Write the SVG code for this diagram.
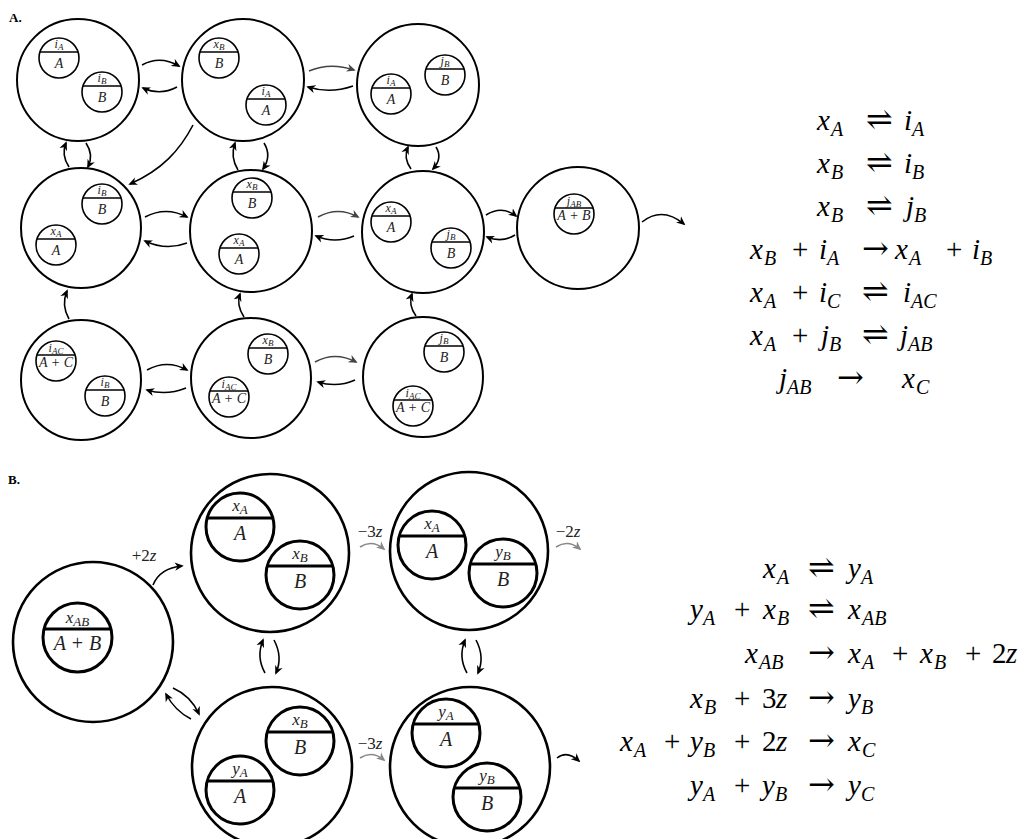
<svg xmlns="http://www.w3.org/2000/svg" width="1031" height="839" viewBox="0 0 1031 839">
<style>
.o{fill:none;stroke:#000;stroke-width:2}
.s{fill:none;stroke:#000;stroke-width:1.6}
.ob{fill:none;stroke:#000;stroke-width:2.6}
.sb2{fill:none;stroke:#000;stroke-width:3}
.t{font-family:"Liberation Serif","DejaVu Serif",serif;font-style:italic;font-size:12px;fill:#222;text-anchor:middle}
.b{font-family:"Liberation Serif","DejaVu Serif",serif;font-style:italic;font-size:14px;fill:#222;text-anchor:middle;white-space:pre}
.tB{font-family:"Liberation Serif","DejaVu Serif",serif;font-style:italic;font-size:17px;fill:#222;text-anchor:middle}
.bB{font-family:"Liberation Serif","DejaVu Serif",serif;font-style:italic;font-size:20px;fill:#222;text-anchor:middle;white-space:pre}
.eq{font-family:"Liberation Serif","DejaVu Serif",serif;font-size:29px;fill:#000}
.m{font-style:italic}
.s2{font-style:italic;font-size:20px}
.ar{font-family:"DejaVu Serif","DejaVu Sans",serif;font-size:32px}
.v{font-style:italic}
.lab{font-family:"Liberation Serif","DejaVu Serif",serif;font-size:17px;fill:#222;text-anchor:middle;white-space:pre}
.h{font-family:"Liberation Serif","DejaVu Serif",serif;font-weight:bold;font-size:13px;fill:#000}
.c{fill:none;stroke:#000;stroke-width:1.6;marker-end:url(#ah)}
.cd{fill:none;stroke:#444;stroke-width:1.6;marker-end:url(#ahd)}
.cg{fill:none;stroke:#888;stroke-width:1.6;marker-end:url(#ahg)}
</style>
<defs>
<marker id="ah" viewBox="0 0 10 10" refX="8" refY="5" markerWidth="9" markerHeight="9" markerUnits="userSpaceOnUse" orient="auto"><path d="M0,0.5 L10,5 L0,9.5 L3,5 z" fill="#000"/></marker>
<marker id="ahd" viewBox="0 0 10 10" refX="8" refY="5" markerWidth="9" markerHeight="9" markerUnits="userSpaceOnUse" orient="auto"><path d="M0,0.5 L10,5 L0,9.5 L3,5 z" fill="#444"/></marker>
<marker id="ahg" viewBox="0 0 10 10" refX="8" refY="5" markerWidth="9" markerHeight="9" markerUnits="userSpaceOnUse" orient="auto"><path d="M0,0.5 L10,5 L0,9.5 L3,5 z" fill="#888"/></marker>
</defs>
<rect width="1031" height="839" fill="#fff"/>

<text class="h" x="9" y="22">A.</text>
<text class="h" x="8" y="484">B.</text>

<!-- Panel A nodes -->
<g id="A1">
<circle class="o" cx="78" cy="80" r="61"/>
<g id="A1a"><circle class="s" cx="59" cy="58" r="20"/><line class="s" x1="39.9" y1="52" x2="78.1" y2="52"/><text class="t" x="59" y="48">i<tspan dy="2" font-size="9">A</tspan></text><text class="b" x="59" y="68">A</text></g>
<g id="A1b"><circle class="s" cx="102" cy="92" r="20"/><line class="s" x1="82.9" y1="86" x2="121.1" y2="86"/><text class="t" x="102" y="82">i<tspan dy="2" font-size="9">B</tspan></text><text class="b" x="102" y="102">B</text></g>
</g>
<g id="A2">
<circle class="o" cx="243" cy="80" r="61"/>
<g id="A2a"><circle class="s" cx="219" cy="58" r="20"/><line class="s" x1="199.9" y1="52" x2="238.1" y2="52"/><text class="t" x="219" y="48">x<tspan dy="2" font-size="9">B</tspan></text><text class="b" x="219" y="68">B</text></g>
<g id="A2b"><circle class="s" cx="266" cy="105" r="20"/><line class="s" x1="246.9" y1="99" x2="285.1" y2="99"/><text class="t" x="266" y="95">i<tspan dy="2" font-size="9">A</tspan></text><text class="b" x="266" y="115">A</text></g>
</g>
<g id="A3">
<circle class="o" cx="418" cy="85" r="61"/>
<g id="A3a"><circle class="s" cx="391" cy="94" r="20"/><line class="s" x1="371.9" y1="88" x2="410.1" y2="88"/><text class="t" x="391" y="84">i<tspan dy="2" font-size="9">A</tspan></text><text class="b" x="391" y="104">A</text></g>
<g id="A3b"><circle class="s" cx="445" cy="75" r="20"/><line class="s" x1="425.9" y1="69" x2="464.1" y2="69"/><text class="t" x="445" y="65">j<tspan dy="2" font-size="9">B</tspan></text><text class="b" x="445" y="85">B</text></g>
</g>
<g id="A4">
<circle class="o" cx="81" cy="228" r="60"/>
<g id="A4a"><circle class="s" cx="102" cy="204" r="20"/><line class="s" x1="82.9" y1="198" x2="121.1" y2="198"/><text class="t" x="102" y="194">i<tspan dy="2" font-size="9">B</tspan></text><text class="b" x="102" y="214">B</text></g>
<g id="A4b"><circle class="s" cx="56" cy="245" r="20"/><line class="s" x1="36.9" y1="239" x2="75.1" y2="239"/><text class="t" x="56" y="235">x<tspan dy="2" font-size="9">A</tspan></text><text class="b" x="56" y="255">A</text></g>
</g>
<g id="A5">
<circle class="o" cx="251" cy="231" r="61"/>
<g id="A5a"><circle class="s" cx="252" cy="198" r="20"/><line class="s" x1="232.9" y1="192" x2="271.1" y2="192"/><text class="t" x="252" y="188">x<tspan dy="2" font-size="9">B</tspan></text><text class="b" x="252" y="208">B</text></g>
<g id="A5b"><circle class="s" cx="239" cy="254" r="20"/><line class="s" x1="219.9" y1="248" x2="258.1" y2="248"/><text class="t" x="239" y="244">x<tspan dy="2" font-size="9">A</tspan></text><text class="b" x="239" y="264">A</text></g>
</g>
<g id="A6">
<circle class="o" cx="423" cy="232" r="61"/>
<g id="A6a"><circle class="s" cx="391" cy="222" r="20"/><line class="s" x1="371.9" y1="216" x2="410.1" y2="216"/><text class="t" x="391" y="212">x<tspan dy="2" font-size="9">A</tspan></text><text class="b" x="391" y="232">A</text></g>
<g id="A6b"><circle class="s" cx="451" cy="248" r="20"/><line class="s" x1="431.9" y1="242" x2="470.1" y2="242"/><text class="t" x="451" y="238">j<tspan dy="2" font-size="9">B</tspan></text><text class="b" x="451" y="258">B</text></g>
</g>
<g id="A7">
<circle class="o" cx="578" cy="228" r="61"/>
<g id="A7a"><circle class="s" cx="574" cy="214" r="20"/><line class="s" x1="554.9" y1="208" x2="593.1" y2="208"/><text class="t" x="574" y="205">j<tspan dy="2" font-size="9">AB</tspan></text><text class="b" x="574" y="220">A + B</text></g>
</g>
<g id="A8">
<circle class="o" cx="81" cy="380" r="60"/>
<g id="A8a"><circle class="s" cx="56" cy="361" r="20"/><line class="s" x1="36.9" y1="355" x2="75.1" y2="355"/><text class="t" x="56" y="352">i<tspan dy="2" font-size="9">AC</tspan></text><text class="b" x="56" y="367">A + C</text></g>
<g id="A8b"><circle class="s" cx="105" cy="396" r="20"/><line class="s" x1="85.9" y1="390" x2="124.1" y2="390"/><text class="t" x="105" y="386">i<tspan dy="2" font-size="9">B</tspan></text><text class="b" x="105" y="406">B</text></g>
</g>
<g id="A9">
<circle class="o" cx="251" cy="378" r="60"/>
<g id="A9a"><circle class="s" cx="268" cy="354" r="20"/><line class="s" x1="248.9" y1="348" x2="287.1" y2="348"/><text class="t" x="268" y="344">x<tspan dy="2" font-size="9">B</tspan></text><text class="b" x="268" y="364">B</text></g>
<g id="A9b"><circle class="s" cx="229" cy="397" r="20"/><line class="s" x1="209.9" y1="391" x2="248.1" y2="391"/><text class="t" x="229" y="388">i<tspan dy="2" font-size="9">AC</tspan></text><text class="b" x="229" y="403">A + C</text></g>
</g>
<g id="A10">
<circle class="o" cx="423" cy="377" r="60"/>
<g id="A10a"><circle class="s" cx="444" cy="352" r="20"/><line class="s" x1="424.9" y1="346" x2="463.1" y2="346"/><text class="t" x="444" y="342">j<tspan dy="2" font-size="9">B</tspan></text><text class="b" x="444" y="362">B</text></g>
<g id="A10b"><circle class="s" cx="413" cy="406" r="20"/><line class="s" x1="393.9" y1="400" x2="432.1" y2="400"/><text class="t" x="413" y="397">i<tspan dy="2" font-size="9">AC</tspan></text><text class="b" x="413" y="412">A + C</text></g>
</g>

<!-- Panel B nodes -->
<g id="B1">
<circle class="ob" cx="93" cy="642" r="80"/>
<g id="B1a"><circle class="sb2" cx="77.5" cy="637.5" r="34.5"/><line class="sb2" x1="44.2" y1="629" x2="110.8" y2="629"/><text class="tB" x="77.5" y="623">x<tspan dy="3" font-size="13">AB</tspan></text><text class="bB" x="77.5" y="650">A + B</text></g>
</g>
<g id="B2">
<circle class="ob" cx="270" cy="553" r="79"/>
<g id="B2a"><circle class="sb2" cx="240" cy="527" r="34"/><line class="sb2" x1="207.2" y1="518" x2="272.8" y2="518"/><text class="tB" x="240" y="511">x<tspan dy="3" font-size="13">A</tspan></text><text class="bB" x="240" y="540">A</text></g>
<g id="B2b"><circle class="sb2" cx="300" cy="575" r="34"/><line class="sb2" x1="267.2" y1="566" x2="332.8" y2="566"/><text class="tB" x="300" y="559">x<tspan dy="3" font-size="13">B</tspan></text><text class="bB" x="300" y="588">B</text></g>
</g>
<g id="B3">
<circle class="ob" cx="469" cy="551" r="79"/>
<g id="B3a"><circle class="sb2" cx="432" cy="545" r="34"/><line class="sb2" x1="399.2" y1="536" x2="464.8" y2="536"/><text class="tB" x="432" y="529">x<tspan dy="3" font-size="13">A</tspan></text><text class="bB" x="432" y="558">A</text></g>
<g id="B3b"><circle class="sb2" cx="503" cy="573" r="34"/><line class="sb2" x1="470.2" y1="564" x2="535.8" y2="564"/><text class="tB" x="503" y="557">y<tspan dy="3" font-size="13">B</tspan></text><text class="bB" x="503" y="586">B</text></g>
</g>
<g id="B4">
<circle class="ob" cx="272" cy="767" r="80"/>
<g id="B4a"><circle class="sb2" cx="300" cy="741" r="34"/><line class="sb2" x1="267.2" y1="732" x2="332.8" y2="732"/><text class="tB" x="300" y="725">x<tspan dy="3" font-size="13">B</tspan></text><text class="bB" x="300" y="754">B</text></g>
<g id="B4b"><circle class="sb2" cx="240" cy="790" r="34"/><line class="sb2" x1="207.2" y1="781" x2="272.8" y2="781"/><text class="tB" x="240" y="774">y<tspan dy="3" font-size="13">A</tspan></text><text class="bB" x="240" y="803">A</text></g>
</g>
<g id="B5">
<circle class="ob" cx="470" cy="767" r="80"/>
<g id="B5a"><circle class="sb2" cx="446" cy="733" r="34"/><line class="sb2" x1="413.2" y1="724" x2="478.8" y2="724"/><text class="tB" x="446" y="717">y<tspan dy="3" font-size="13">A</tspan></text><text class="bB" x="446" y="746">A</text></g>
<g id="B5b"><circle class="sb2" cx="487" cy="797" r="34"/><line class="sb2" x1="454.2" y1="788" x2="519.8" y2="788"/><text class="tB" x="487" y="781">y<tspan dy="3" font-size="13">B</tspan></text><text class="bB" x="487" y="810">B</text></g>
</g>

<!-- Connectors -->
<g id="connectors">
<path class="c" d="M142,65 Q160,55 179,66"/>
<path class="c" d="M177,87 Q160,96 143,88"/>
<path class="cd" d="M309,71 Q330,62 354,70"/>
<path class="c" d="M353,86 Q330,94 308,87"/>
<path class="c" d="M69,167 Q61,155 66,143"/>
<path class="c" d="M86,143 Q94,155 88,167"/>
<path class="c" d="M238,170 Q230,157 235,143"/>
<path class="c" d="M264,143 Q272,156 263,169"/>
<path class="c" d="M411,169 Q403,158 408,147"/>
<path class="c" d="M436,147 Q443,158 433,169"/>
<path class="c" d="M193,125 C180,150 162,170 130,184"/>
<path class="c" d="M145,217 Q166,206 187,217"/>
<path class="c" d="M187,243 Q166,251 145,241"/>
<path class="cd" d="M318,217 Q338,206 358,217"/>
<path class="c" d="M354,236 Q335,244 316,236"/>
<path class="c" d="M486,215 Q502,205 516,216"/>
<path class="c" d="M515,235 Q502,243 487,237"/>
<path class="c" d="M642,222 Q662,206 684,224"/>
<path class="c" d="M69,319 Q61,305 67,291"/>
<path class="c" d="M244,317 Q236,305 240,294"/>
<path class="c" d="M416,316 Q408,305 412,294"/>
<path class="c" d="M147,370 Q167,359 187,370"/>
<path class="c" d="M186,388 Q166,396 147,390"/>
<path class="cd" d="M315,362 Q335,351 356,362"/>
<path class="c" d="M355,380 Q337,388 318,382"/>

<path class="c" d="M153,585 Q160,568 182,566"/>
<path class="cg" d="M360,547 Q372,539 384,549"/>
<path class="cg" d="M556,547 Q568,539 580,549"/>
<path class="c" d="M265,673 Q256,657 263,640"/>
<path class="c" d="M274,640 Q283,657 276,673"/>
<path class="c" d="M467,673 Q458,657 465,640"/>
<path class="c" d="M476,640 Q485,657 478,673"/>
<path class="cg" d="M360,758 Q372,750 384,760"/>
<path class="c" d="M557,758 Q567,750 579,761"/>
<path class="c" d="M173,688 Q191,696 199,714"/>
<path class="c" d="M191,719 Q175,711 166,694"/>
</g>
<text class="lab" x="144" y="561">+2<tspan class="v">z</tspan></text>
<text class="lab" x="370" y="537">−3<tspan class="v">z</tspan></text>
<text class="lab" x="568" y="537">−2<tspan class="v">z</tspan></text>
<text class="lab" x="370" y="749">−3<tspan class="v">z</tspan></text>

<!-- Equations A -->
<g id="eqA">
<text class="eq"><tspan class="m" x="817" y="130">x</tspan><tspan class="s2" x="831" y="136">A</tspan><tspan class="ar" x="866" y="130">⇌</tspan><tspan class="m" x="904" y="130">i</tspan><tspan class="s2" x="912" y="136">A</tspan></text>
<text class="eq"><tspan class="m" x="817" y="173">x</tspan><tspan class="s2" x="831" y="179">B</tspan><tspan class="ar" x="866" y="173">⇌</tspan><tspan class="m" x="904" y="173">i</tspan><tspan class="s2" x="912" y="179">B</tspan></text>
<text class="eq"><tspan class="m" x="817" y="216">x</tspan><tspan class="s2" x="831" y="222">B</tspan><tspan class="ar" x="866" y="216">⇌</tspan><tspan class="m" x="906" y="216">j</tspan><tspan class="s2" x="914" y="222">B</tspan></text>
<text class="eq"><tspan class="m" x="750" y="259">x</tspan><tspan class="s2" x="764" y="265">B</tspan><tspan x="792" y="259">+</tspan><tspan class="m" x="819" y="259">i</tspan><tspan class="s2" x="827" y="265">A</tspan><tspan class="ar" x="862" y="259">→</tspan><tspan class="m" x="895" y="259">x</tspan><tspan class="s2" x="909" y="265">A</tspan><tspan x="946" y="259">+</tspan><tspan class="m" x="972" y="259">i</tspan><tspan class="s2" x="980" y="265">B</tspan></text>
<text class="eq"><tspan class="m" x="750" y="302">x</tspan><tspan class="s2" x="764" y="308">A</tspan><tspan x="792" y="302">+</tspan><tspan class="m" x="819" y="302">i</tspan><tspan class="s2" x="827" y="308">C</tspan><tspan class="ar" x="862" y="302">⇌</tspan><tspan class="m" x="903" y="302">i</tspan><tspan class="s2" x="911" y="308">AC</tspan></text>
<text class="eq"><tspan class="m" x="750" y="345">x</tspan><tspan class="s2" x="764" y="351">A</tspan><tspan x="792" y="345">+</tspan><tspan class="m" x="821" y="345">j</tspan><tspan class="s2" x="829" y="351">B</tspan><tspan class="ar" x="862" y="345">⇌</tspan><tspan class="m" x="900" y="345">j</tspan><tspan class="s2" x="908" y="351">AB</tspan></text>
<text class="eq"><tspan class="m" x="779" y="388">j</tspan><tspan class="s2" x="787" y="394">AB</tspan><tspan class="ar" x="837" y="388">→</tspan><tspan class="m" x="902" y="388">x</tspan><tspan class="s2" x="916" y="394">C</tspan></text>
</g>

<!-- Equations B -->
<g id="eqB">
<text class="eq"><tspan class="m" x="763" y="578">x</tspan><tspan class="s2" x="777" y="584">A</tspan><tspan class="ar" x="808" y="578">⇌</tspan><tspan class="m" x="848" y="578">y</tspan><tspan class="s2" x="861" y="584">A</tspan></text>
<text class="eq"><tspan class="m" x="690" y="619">y</tspan><tspan class="s2" x="703" y="625">A</tspan><tspan x="734" y="619">+</tspan><tspan class="m" x="763" y="619">x</tspan><tspan class="s2" x="777" y="625">B</tspan><tspan class="ar" x="808" y="619">⇌</tspan><tspan class="m" x="848" y="619">x</tspan><tspan class="s2" x="862" y="625">AB</tspan></text>
<text class="eq"><tspan class="m" x="745" y="663">x</tspan><tspan class="s2" x="759" y="669">AB</tspan><tspan class="ar" x="808" y="663">→</tspan><tspan class="m" x="848" y="663">x</tspan><tspan class="s2" x="862" y="669">A</tspan><tspan x="892" y="663">+</tspan><tspan class="m" x="920" y="663">x</tspan><tspan class="s2" x="934" y="669">B</tspan><tspan x="965" y="663">+</tspan><tspan x="992" y="663">2</tspan><tspan class="m" x="1006" y="663">z</tspan></text>
<text class="eq"><tspan class="m" x="690" y="708">x</tspan><tspan class="s2" x="704" y="714">B</tspan><tspan x="734" y="708">+</tspan><tspan x="762" y="708">3</tspan><tspan class="m" x="776" y="708">z</tspan><tspan class="ar" x="808" y="708">→</tspan><tspan class="m" x="848" y="708">y</tspan><tspan class="s2" x="861" y="714">B</tspan></text>
<text class="eq"><tspan class="m" x="620" y="751">x</tspan><tspan class="s2" x="634" y="757">A</tspan><tspan x="664" y="751">+</tspan><tspan class="m" x="690" y="751">y</tspan><tspan class="s2" x="703" y="757">B</tspan><tspan x="734" y="751">+</tspan><tspan x="762" y="751">2</tspan><tspan class="m" x="776" y="751">z</tspan><tspan class="ar" x="808" y="751">→</tspan><tspan class="m" x="848" y="751">x</tspan><tspan class="s2" x="862" y="757">C</tspan></text>
<text class="eq"><tspan class="m" x="690" y="795">y</tspan><tspan class="s2" x="703" y="801">A</tspan><tspan x="734" y="795">+</tspan><tspan class="m" x="762" y="795">y</tspan><tspan class="s2" x="775" y="801">B</tspan><tspan class="ar" x="808" y="795">→</tspan><tspan class="m" x="848" y="795">y</tspan><tspan class="s2" x="861" y="801">C</tspan></text>
</g>
</svg>
